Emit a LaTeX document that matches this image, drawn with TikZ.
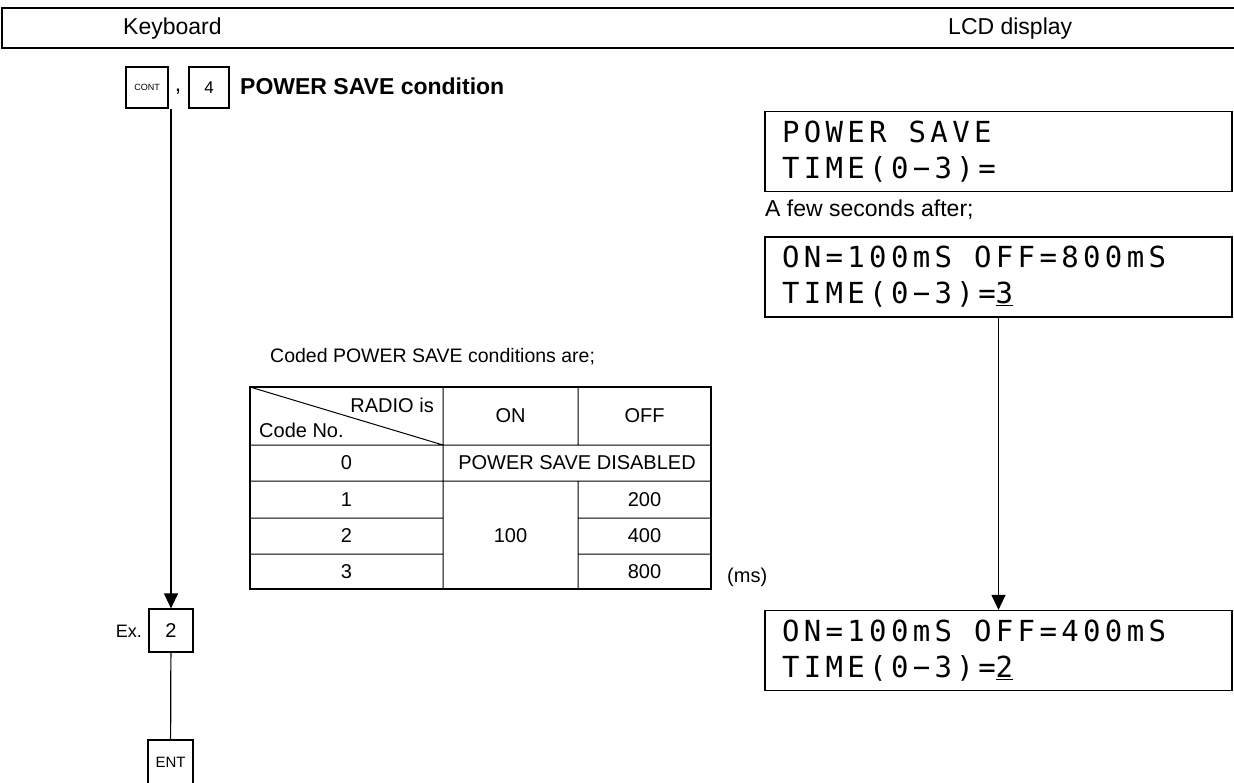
\documentclass[tikz,border=0pt]{standalone}
\usepackage{fontspec}
\setmainfont{Liberation Sans}
\newfontfamily\lcdfont[LetterSpace=15]{DejaVu Sans Mono}
\usetikzlibrary{arrows.meta}

\begin{document}
\begin{tikzpicture}[x=1pt, y=-1pt,
  key/.style={draw, line width=1.2pt, inner sep=0pt, font=\fontsize{15}{17}\selectfont},
  lcd/.style={draw, line width=1.2pt, minimum width=467pt, minimum height=80pt, text width=433pt, align=left, inner xsep=17pt, inner ysep=0pt, font=\lcdfont\fontsize{29}{36}\selectfont},
  txt/.style={inner sep=0pt, font=\fontsize{23}{26}\selectfont},
  cell/.style={inner sep=0pt, font=\fontsize{20}{22}\selectfont},
  flow/.style={line width=1.2pt, -{Triangle[width=14pt,length=15pt]}}]
  \useasboundingbox (0,0) rectangle (1234,782);

  % Header
  \draw[line width=1.4pt] (1234,8) -- (2,8) -- (2,48) -- (1234,48);
  \node[txt, anchor=west] (kbd) at (123,29) {Keyboard};
  \node[txt, anchor=west] (lcdhead) at (948,29) {LCD display};

  % Keyboard
  \node[key, minimum width=42pt, minimum height=41pt, font=\fontsize{9}{10}\selectfont] (cont) at (147,87.5) {CONT};
  \node[txt] (comma) at (178,92) {,};
  \node[key, minimum width=40pt, minimum height=41pt, font=\fontsize{17}{19}\selectfont] (four) at (209,87.5) {4};
  \node[txt, anchor=west, font=\bfseries\fontsize{23}{26}\selectfont] (title) at (240,86) {POWER SAVE condition};
  \node[key, minimum width=44pt, minimum height=43pt, font=\fontsize{20}{22}\selectfont] (two) at (171,630.5) {2};
  \node[txt, anchor=east, font=\fontsize{18}{20}\selectfont] (ex) at (142,631) {Ex.};
  \node[key, minimum width=45pt, minimum height=44pt] (ent) at (170.5,762) {ENT};

  % LCD display
  \node[lcd] (lcd1) at (998.5,151.5) {POWER\hspace{22pt}SAVE\\TIME(0−3)=};
  \node[txt, anchor=west] (after) at (765,210) {A few seconds after;};
  \node[lcd] (lcd2) at (998.5,277) {ON=100mS\hspace{22pt}OFF=800mS\\TIME(0−3)=\underline{3}};
  \node[lcd] (lcd3) at (998.5,650.5) {ON=100mS\hspace{22pt}OFF=400mS\\TIME(0−3)=\underline{2}};

  % Code table
  \node[txt, anchor=west, font=\fontsize{19.5}{22}\selectfont] (coded) at (270,357) {Coded POWER SAVE conditions are;};
  \draw[line width=2pt] (250,387) rectangle (711,589);
  \draw[line width=1pt] (250,445) -- (711,445) (250,481) -- (711,481)
    (443,387) -- (443,589) (578,387) -- (578,445) (578,481) -- (578,589)
    (250,518) -- (443,518) (578,518) -- (711,518)
    (250,554) -- (443,554) (578,554) -- (711,554)
    (250,387) -- (443,445);
  \node[cell, anchor=east] (radio) at (434,405) {RADIO is};
  \node[cell, anchor=west] (codeno) at (259,430) {Code No.};
  \node[cell] (hon) at (510.5,416) {ON};
  \node[cell] (hoff) at (644.5,416) {OFF};
  \node[cell] (disabled) at (577,463) {POWER SAVE DISABLED};
  \foreach \c/\y in {0/463,1/499.5,2/536,3/571.5}
    \node[cell] (code\c) at (346.5,\y) {\c};
  \foreach \v/\y in {200/499.5,400/536,800/571.5}
    \node[cell] (off\v) at (644.5,\y) {\v};
  \node[cell] (on100) at (510.5,536) {100};
  \node[cell, anchor=west] (unit) at (727,577) {(ms)};

  % Connections
  \coordinate (kstart) at (two |- cont.south);
  \draw[flow] (kstart) -- (two);
  \draw[line width=1.2pt] (two) -- (ent);
  \draw[flow] (lcd2) -- (lcd3);
\end{tikzpicture}
\end{document}
